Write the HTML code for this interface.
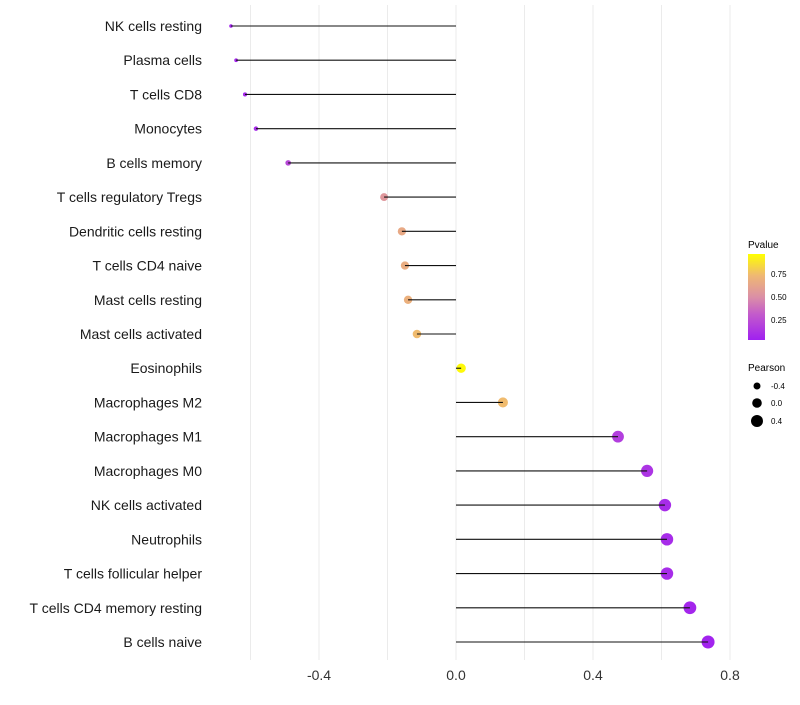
<!DOCTYPE html>
<html><head><meta charset="utf-8"><style>
body{margin:0;background:#fff;font-family:"Liberation Sans",sans-serif}
</style></head><body>
<svg id="chart" width="800" height="700" xmlns="http://www.w3.org/2000/svg">
<g id="grid"></g>
<g id="marks"></g>
<g id="ylabels"></g>
<g id="xlabels"></g>
<g>
<defs><linearGradient id="pg" x1="0" y1="1" x2="0" y2="0">
<stop offset="0" stop-color="#A020F0"/><stop offset="0.3" stop-color="#C35BCB"/><stop offset="0.5" stop-color="#DB8FA6"/><stop offset="0.75" stop-color="#EFB873"/><stop offset="1" stop-color="#FFFF00"/></linearGradient></defs>
<text x="748" y="248" font-size="10">Pvalue</text>
<rect x="748" y="254" width="17" height="86" fill="url(#pg)"/>
<text x="771" y="277" font-size="8">0.75</text>
<text x="771" y="300" font-size="8">0.50</text>
<text x="771" y="323" font-size="8">0.25</text>
</g>
<g>
<text x="748" y="371" font-size="10">Pearson</text>
<circle cx="757" cy="386" r="3.5" fill="#000"/>
<text x="771" y="389" font-size="8">-0.4</text>
<circle cx="757" cy="403" r="4.8" fill="#000"/>
<text x="771" y="406" font-size="8">0.0</text>
<circle cx="757" cy="421" r="6" fill="#000"/>
<text x="771" y="424" font-size="8">0.4</text>
</g>
</svg>
<script>
const categories=["NK cells resting","Plasma cells","T cells CD8","Monocytes","B cells memory","T cells regulatory  Tregs","Dendritic cells resting","T cells CD4 naive","Mast cells resting","Mast cells activated","Eosinophils","Macrophages M2","Macrophages M1","Macrophages M0","NK cells activated","Neutrophils","T cells follicular helper","T cells CD4 memory resting","B cells naive"];
const pearson=[-0.657,-0.642,-0.616,-0.584,-0.49,-0.21,-0.158,-0.149,-0.14,-0.114,0.015,0.137,0.473,0.558,0.61,0.616,0.616,0.683,0.736];
const pvalues=[0.02,0.03,0.04,0.06,0.2,0.55,0.66,0.68,0.7,0.76,0.98,0.76,0.15,0.1,0.06,0.06,0.06,0.03,0.02];
const xTicks=[-0.4,0,0.4,0.8];
const xTickLabels=["-0.4","0.0","0.4","0.8"];
const xMinor=[-0.6,-0.2,0.2,0.6];
const NS="http://www.w3.org/2000/svg";
const xs=v=>456+v*342.5;
const ys=i=>26+i*(616/18);
const rs=v=>Math.sqrt(3+Math.max(0,v+0.66)*28);
function col(p){
 const st=[[0,[160,32,240]],[0.3,[195,91,203]],[0.5,[219,143,166]],[0.75,[239,184,115]],[1,[255,255,0]]];
 for(let k=1;k<st.length;k++){if(p<=st[k][0]){const a=st[k-1],b=st[k],t=(p-a[0])/(b[0]-a[0]);
 return "rgb("+a[1].map((c,j)=>Math.round(c+(b[1][j]-c)*t)).join(",")+")";}}
 return "rgb(255,255,0)";
}
function mk(tag,attrs,parent){const e=document.createElementNS(NS,tag);for(const k in attrs)e.setAttribute(k,attrs[k]);document.getElementById(parent).appendChild(e);return e;}
xMinor.concat(xTicks).forEach(v=>{
 const l=mk("line",{x1:xs(v),x2:xs(v),y1:5,y2:660,stroke:"#ebebeb","stroke-width":1},"grid");
 
 
});
xTicks.forEach((v,i)=>{
 const t=mk("text",{x:xs(v),y:680,"font-size":14,"text-anchor":"middle",fill:"#333"},"xlabels");
 t.textContent=xTickLabels[i];
 
 
});
categories.forEach((c,i)=>{
 const y=ys(i),v=pearson[i];
 const t=mk("text",{x:202,y:y+5,"font-size":14,"text-anchor":"end",fill:"#1a1a1a"},"ylabels");
 t.textContent=c;
 
 
 const d=mk("circle",{cx:xs(v),cy:y,r:rs(v),fill:col(pvalues[i])},"marks");
 
 
 const l=mk("line",{x1:xs(0),x2:xs(v),y1:y,y2:y,stroke:"#111","stroke-width":1.1},"marks");
 
 
});
</script>
</body></html>
